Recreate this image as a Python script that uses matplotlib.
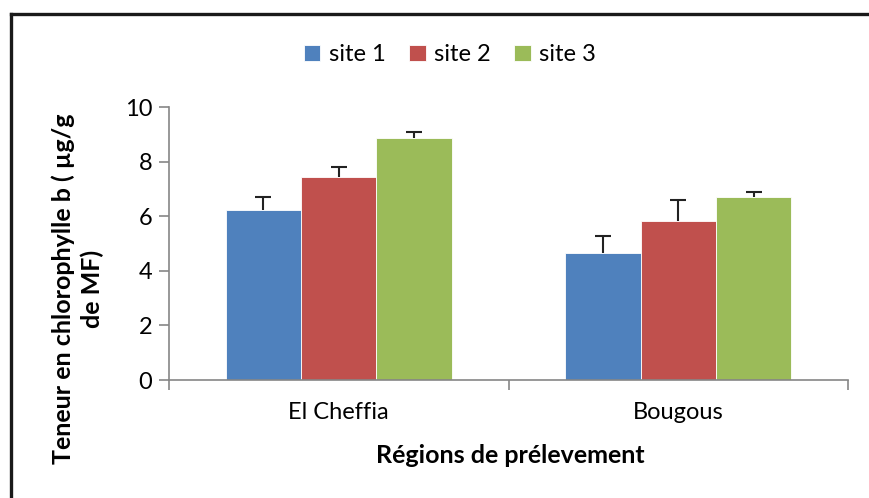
import numpy as np
import matplotlib
matplotlib.use("Agg")
import matplotlib.pyplot as plt
from matplotlib.lines import Line2D

# data
regions = ["El Cheffia", "Bougous"]
sites = ["site 1", "site 2", "site 3"]
site1 = [6.22, 4.64]
site2 = [7.42, 5.82]
site3 = [8.86, 6.69]
err1 = [0.48, 0.65]
err2 = [0.37, 0.77]
err3 = [0.23, 0.18]
yticks = [0, 2, 4, 6, 8, 10]

colors = ["#4F81BD", "#C0504D", "#9BBB59"]
axis_grey = "#868686"

plt.rcParams["font.family"] = ["Lato", "DejaVu Sans"]

fig = plt.figure(figsize=(8.7, 4.98), dpi=100)
ax = fig.add_axes([0.1943, 0.2369, 0.7805, 0.5482])

x = np.arange(len(regions))
width = 0.222
series = [site1, site2, site3]
errs = [err1, err2, err3]
for i, (vals, e) in enumerate(zip(series, errs)):
    pos = x + (i - 1) * width
    ax.bar(pos, vals, width, color=colors[i], edgecolor="white",
           linewidth=0.6, label=sites[i], zorder=2)
    eb = ax.errorbar(pos, vals, yerr=[np.zeros(len(e)), e], fmt="none",
                     ecolor="#222222", elinewidth=1.5, capsize=6,
                     capthick=1.5, zorder=3)
    # only the upper cap is shown
    eb.lines[1][0].set_visible(False)

ax.set_xlim(-0.5, 1.5)
ax.set_ylim(0, 10)
ax.set_yticks(yticks)
ax.set_yticklabels([str(t) for t in yticks], fontsize=17)
ax.set_xticks([-0.5, 0.5, 1.5])
ax.set_xticklabels([])
ax.set_xticks(x, minor=True)
ax.set_xticklabels(regions, minor=True, fontsize=17)
ax.tick_params(axis="x", which="minor", length=0, pad=16)
ax.tick_params(axis="x", which="major", length=7, color=axis_grey, width=1.2)
ax.tick_params(axis="y", length=7, color=axis_grey, width=1.2, pad=5)

for side in ["top", "right"]:
    ax.spines[side].set_visible(False)
for side in ["left", "bottom"]:
    ax.spines[side].set_color(axis_grey)
    ax.spines[side].set_linewidth(1.2)

fig.text(0.586, 0.086, "Régions de prélevement",
         ha="center", va="center", fontsize=18, fontweight="bold")
fig.text(0.089, 0.42, "Teneur en chlorophylle b ( µg/g\nde MF)",
         ha="center", va="center", rotation=90, fontsize=18,
         fontweight="bold", linespacing=1.3)

fig.legend(loc="center", bbox_to_anchor=(0.517, 0.89), ncol=3, frameon=False,
           fontsize=17, handlelength=0.7, handleheight=0.7,
           handletextpad=0.35, columnspacing=1.0)

# outer frame (top and left edges only visible)
fig.add_artist(Line2D([0.0132, 1.0], [0.971, 0.971], color="#1a1a1a",
                      linewidth=2.4, transform=fig.transFigure))
fig.add_artist(Line2D([0.0132, 0.0132], [0.0, 0.971], color="#1a1a1a",
                      linewidth=2.4, transform=fig.transFigure))

fig.savefig("out.png", dpi=100)
